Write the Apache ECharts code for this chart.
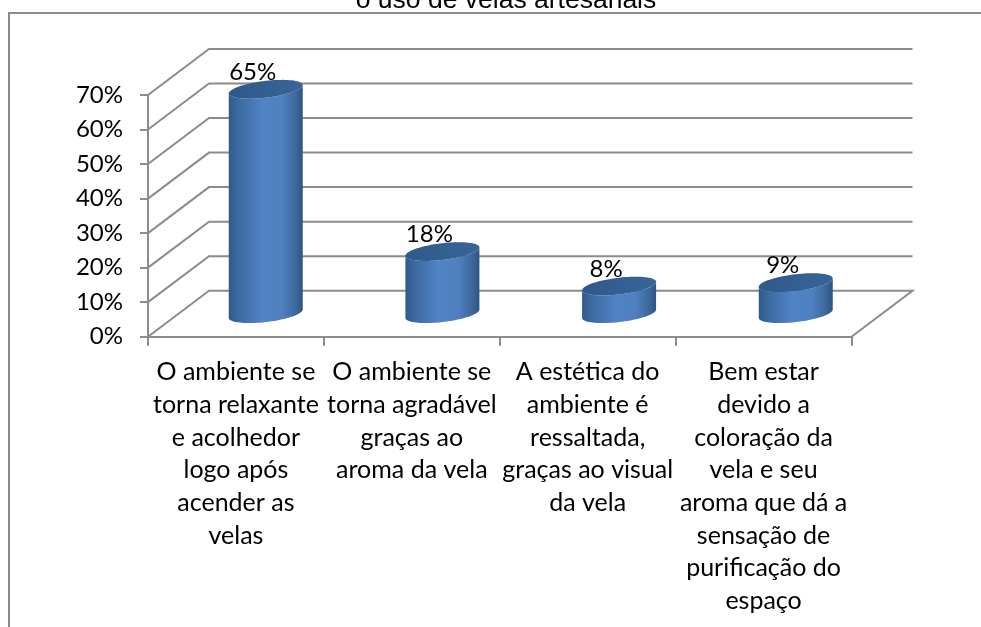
<!DOCTYPE html>
<html>
<head>
<meta charset="utf-8">
<style>html,body{margin:0;padding:0;background:#fff}#c{width:981px;height:627px}</style>
<script src="https://cdn.jsdelivr.net/npm/echarts@6/dist/echarts.min.js"></script>
</head>
<body>
<div id="c"></div>
<script>
const titleText = 'o uso de velas artesanais';
const categories = [
  'O ambiente se\ntorna relaxante\ne acolhedor\nlogo após\nacender as\nvelas',
  'O ambiente se\ntorna agradável\ngraças ao\naroma da vela',
  'A estética do\nambiente é\nressaltada,\ngraças ao visual\nda vela',
  'Bem estar\ndevido a\ncoloração da\nvela e seu\naroma que dá a\nsensação de\npurificação do\nespaço'
];
const values = [65, 18, 8, 9];
const yTicks = [0, 10, 20, 30, 40, 50, 60, 70];

const DX = 61, DY = -46;          // depth of the 3D box
const GRAY = '#8c8c8c';
const FONT = 'Lato';

const chart = echarts.init(document.getElementById('c'), null, {renderer: 'canvas'});

function ellipsePts(cx, cy, a, from, to, n) {
  const pts = [];
  for (let i = 0; i <= n; i++) {
    const t = from + (to - from) * i / n;
    pts.push([cx + a * Math.cos(t), cy - 4.2 * Math.cos(t) + 8.4 * Math.sin(t)]);
  }
  return pts;
}

function renderWall(params, api) {
  const v = api.value(1);
  const p = api.coord([0, v]);
  const cs = params.coordSys;
  const x0 = cs.x, y = p[1];
  const lineStyle = {stroke: GRAY, lineWidth: 2, fill: null};
  const pts = [[x0, y], [x0 + DX, y + DY], [x0 + cs.width + DX, y + DY]];
  if (v === 0) pts.push([x0 + cs.width, y]);
  return {type: 'polyline', shape: {points: pts}, style: lineStyle, silent: true};
}

function renderCyl(params, api) {
  const idx = api.value(0), v = api.value(1);
  const top = api.coord([idx, v]);
  const base = api.coord([idx, 0]);
  const spread = (idx - 1.5) * 0.8 + 0.5;
  const cx = top[0] + DX / 2 + spread;
  const ty = top[1] + DY / 2, by = base[1] + DY / 2;
  const a = 37;
  const body = [...ellipsePts(cx, by, a, Math.PI, 0, 40), ...ellipsePts(cx, ty, a, 0, Math.PI, 40)];
  const grad = new echarts.graphic.LinearGradient(0, 0, 1, 0, [
    {offset: 0, color: '#2f5a8c'},
    {offset: 0.12, color: '#3c689f'},
    {offset: 0.45, color: '#5084c6'},
    {offset: 0.72, color: '#4f80bf'},
    {offset: 0.92, color: '#3b6597'},
    {offset: 1, color: '#2d5482'}
  ]);
  const topGrad = new echarts.graphic.LinearGradient(0, 0, 1, 0, [
    {offset: 0, color: '#30598a'},
    {offset: 1, color: '#386497'}
  ]);
  return {
    type: 'group',
    children: [
      {type: 'polygon', shape: {points: body}, style: {fill: grad}},
      {type: 'polygon', shape: {points: ellipsePts(cx, ty, a, 0, Math.PI * 2, 80)}, style: {fill: topGrad}},
      {type: 'text', style: {
        x: cx - 13, y: ty - 17, text: v + '%', align: 'center', verticalAlign: 'middle',
        fill: '#000', font: '24px ' + FONT
      }, z2: 10}
    ]
  };
}

chart.setOption({
  animation: false,
  backgroundColor: '#fff',
  title: {
    text: titleText, left: 501, top: -18, textAlign: 'center',
    textStyle: {fontFamily: 'Liberation Sans', fontSize: 26.5, fontWeight: 'normal', color: '#000'}
  },
  graphic: [{
    type: 'polyline', silent: true,
    shape: {points: [[9, 627], [9, 13], [981, 13]]},
    style: {stroke: GRAY, lineWidth: 2, fill: null}
  }],
  grid: {left: 148, top: 95, width: 703.5, height: 241.7},
  xAxis: {
    type: 'category', data: categories,
    axisLine: {lineStyle: {color: GRAY, width: 2}},
    axisTick: {show: true, length: 9, lineStyle: {color: GRAY, width: 2}},
    axisLabel: {interval: 0, margin: 19, fontFamily: FONT, fontSize: 25, lineHeight: 32.7, color: '#000', align: 'center'}
  },
  yAxis: {
    type: 'value', min: 0, max: 70, interval: 10,
    splitLine: {show: false},
    axisLine: {show: true, lineStyle: {color: GRAY, width: 2}},
    axisTick: {show: true, length: 8, lineStyle: {color: GRAY, width: 2}},
    axisLabel: {margin: 25, padding: [4, 0, 0, 0], fontFamily: FONT, fontSize: 24, color: '#000', formatter: '{value}%'}
  },
  series: [
    {type: 'custom', renderItem: renderWall, clip: false, z: 1, silent: true,
     encode: {x: 0, y: 1}, data: yTicks.map(v => [0, v])},
    {type: 'custom', renderItem: renderCyl, clip: false, z: 3, silent: true,
     encode: {x: 0, y: 1}, data: values.map((v, i) => [i, v])}
  ]
});
</script>
</body>
</html>
